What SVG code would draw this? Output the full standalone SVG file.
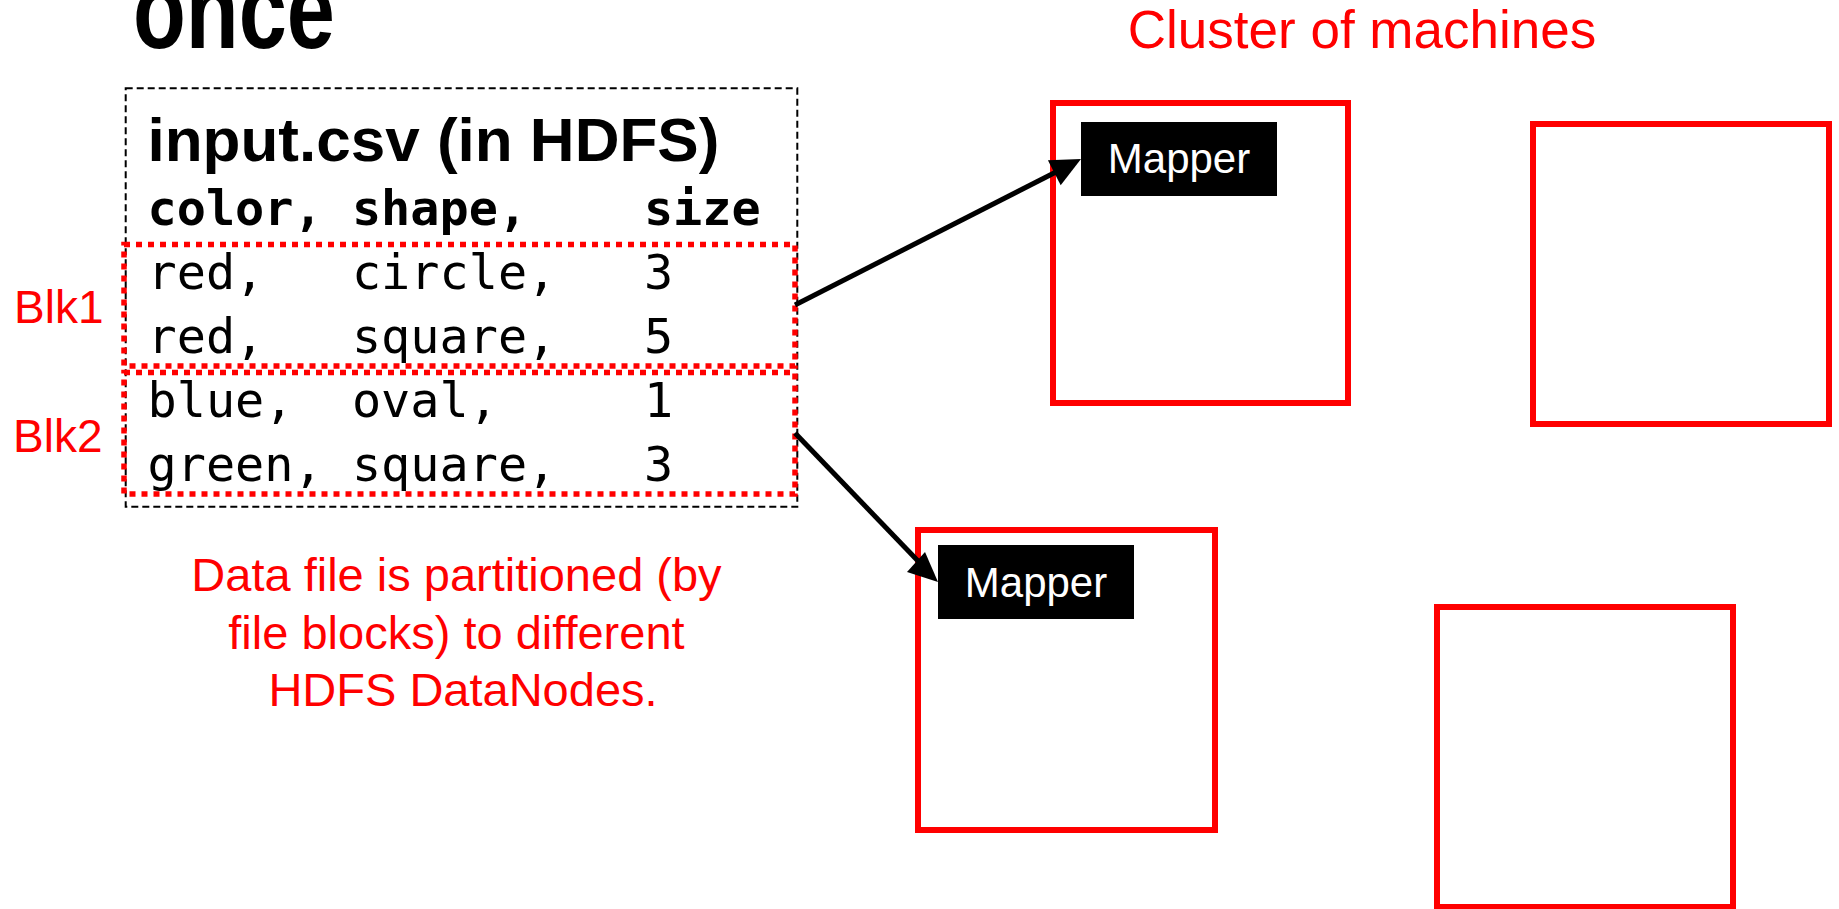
<svg xmlns="http://www.w3.org/2000/svg" width="1839" height="909" viewBox="0 0 1839 909">
  <style>
    .sans { font-family: "Liberation Sans", Arial, sans-serif; }
    .mono { font-family: "DejaVu Sans Mono", "Liberation Mono", monospace; font-size: 48.5px; fill: #000; white-space: pre; }
    .red { fill: #ff0000; }
    .machine { fill: none; stroke: #ff0000; stroke-width: 6; }
    .blk { fill: none; stroke: #ff0000; stroke-width: 5.5; stroke-dasharray: 6 6; }
    .mapper { fill: #000; }
    .mapperText { font-family: "Liberation Sans", Arial, sans-serif; font-size: 42px; fill: #fff; text-anchor: middle; }
    .conn { stroke: #000; stroke-width: 5; fill: none; }
  </style>

  <rect width="1839" height="909" fill="#fff"/>

  <g id="title">
    <text class="sans" x="133" y="48" font-size="112" font-weight="bold" textLength="202" lengthAdjust="spacingAndGlyphs">once</text>
  </g>

  <g id="cluster-label">
    <text class="sans red" x="1362" y="48" font-size="53" text-anchor="middle">Cluster of machines</text>
  </g>

  <g id="input-file">
    <rect x="125.7" y="88.3" width="671.6" height="418.4" fill="none" stroke="#000" stroke-width="2" stroke-dasharray="7 4"/>
    <text class="sans" x="147.5" y="161" font-size="62" font-weight="bold">input.csv (in HDFS)</text>
    <text class="mono" x="147.5" y="224.5" font-weight="bold" xml:space="preserve">color, shape,    size</text>
    <text class="mono" x="147.5" y="288.5" xml:space="preserve">red,   circle,   3</text>
    <text class="mono" x="147.5" y="352.5" xml:space="preserve">red,   square,   5</text>
    <text class="mono" x="147.5" y="416.5" xml:space="preserve">blue,  oval,     1</text>
    <text class="mono" x="147.5" y="480.5" xml:space="preserve">green, square,   3</text>
  </g>

  <g id="blk1">
    <rect class="blk" x="124" y="244.5" width="671" height="121.5"/>
    <text class="sans red" x="14" y="323" font-size="46">Blk1</text>
  </g>

  <g id="blk2">
    <rect class="blk" x="124" y="372.5" width="671" height="121.5"/>
    <text class="sans red" x="13" y="452" font-size="46">Blk2</text>
  </g>

  <g id="note">
    <text class="sans red" font-size="47" text-anchor="middle">
      <tspan x="463" y="591">Data file is partitioned (by</tspan>
      <tspan x="463" y="648.5">file blocks) to different</tspan>
      <tspan x="463" y="706">HDFS DataNodes.</tspan>
    </text>
  </g>

  <g id="machine-a">
    <rect class="machine" x="1053" y="103" width="295" height="300"/>
    <rect class="mapper" x="1081" y="122" width="196" height="74"/>
    <text class="mapperText" x="1179" y="173">Mapper</text>
  </g>

  <g id="machine-b">
    <rect class="machine" x="1533" y="124" width="296" height="300"/>
  </g>

  <g id="machine-c">
    <rect class="machine" x="918" y="530" width="297" height="300"/>
    <rect class="mapper" x="938" y="545" width="196" height="74"/>
    <text class="mapperText" x="1036" y="597">Mapper</text>
  </g>

  <g id="machine-d">
    <rect class="machine" x="1437" y="607" width="296" height="300"/>
  </g>

  <g id="connectors">
    <line class="conn" x1="795" y1="305" x2="1056" y2="172"/>
    <polygon points="1081,159 1047.9,160.2 1060.7,185.2" fill="#000"/>
    <line class="conn" x1="795" y1="433" x2="918" y2="561"/>
    <polygon points="938,582 907,572 925,552" fill="#000"/>
  </g>
</svg>
